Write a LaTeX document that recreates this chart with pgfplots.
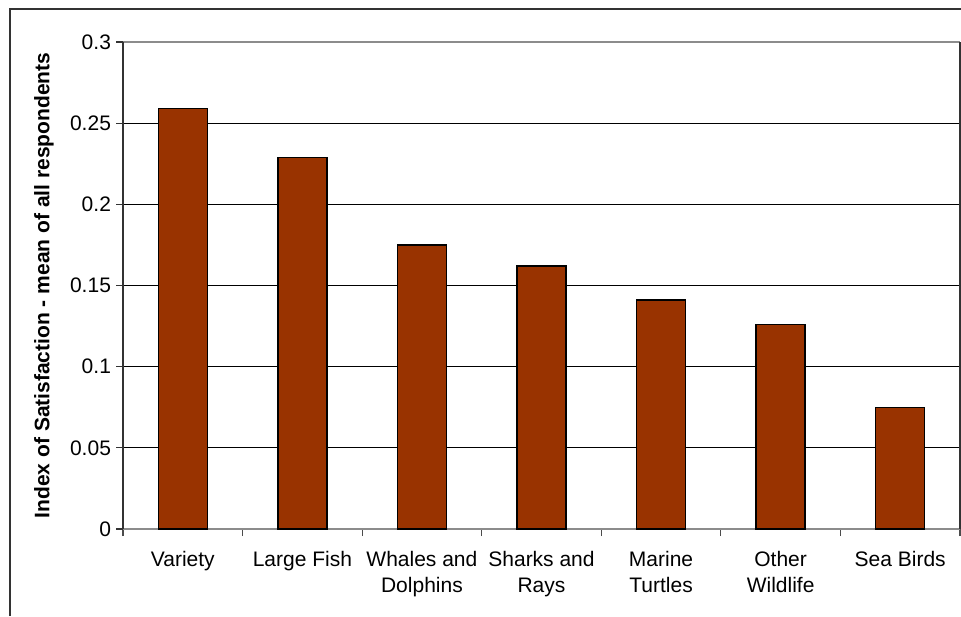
\documentclass[border=0pt]{standalone}
\usepackage{pgfplots}
\pgfplotsset{compat=1.18}
\usepackage{fontspec}
\setmainfont{Liberation Sans}
\definecolor{barbrown}{HTML}{993300}
\begin{document}
\begin{tikzpicture}[x=1pt,y=1pt]
\useasboundingbox (0,0) rectangle (480.5,308);
\draw[line width=1pt, black!80] (5,0) -- (5,303.5) -- (480.5,303.5);
\begin{axis}[
  at={(61.5pt,43.5pt)}, anchor=south west,
  scale only axis,
  width=418.5pt, height=243.5pt,
  xmin=-0.5, xmax=6.5, ymin=0, ymax=0.3,
  font=\fontsize{10.5}{13}\selectfont,
  xtick pos=bottom, ytick pos=left,
  xtick={0,...,6},
  xticklabels={Variety, Large Fish, Whales and\\Dolphins, Sharks and\\Rays, Marine\\Turtles, Other\\Wildlife, Sea Birds},
  xticklabel style={align=center, yshift=-4pt},
  minor xtick={-0.5,0.5,...,6.5},
  major x tick style={draw=none},
  minor x tick style={black!70, line width=0.6pt},
  minor tick length=3.5pt,
  ytick={0,0.05,...,0.3},
  yticklabels={0,0.05,0.1,0.15,0.2,0.25,0.3},
  y tick style={black!80, line width=0.6pt},
  major tick length=3.5pt,
  tick align=outside,
  yticklabel style={xshift=1pt},
  ymajorgrids,
  grid style={black, line width=0.6pt},
  axis line style={black!45, line width=0.8pt},
  separate axis lines,
  y axis line style={black!80},
  ylabel={\bfseries Index of Satisfaction - mean of all respondents},
  every axis y label/.style={at={(axis description cs:-0.0944,0.5)}, rotate=90, anchor=center},
  /pgf/number format/assume math mode=true,
]
\addplot[ybar, bar width=24.5pt, fill=barbrown, draw=black, line width=0.75pt]
  coordinates {(0,0.259) (1,0.229) (2,0.175) (3,0.162) (4,0.141) (5,0.126) (6,0.075)};
\end{axis}
\end{tikzpicture}
\end{document}
